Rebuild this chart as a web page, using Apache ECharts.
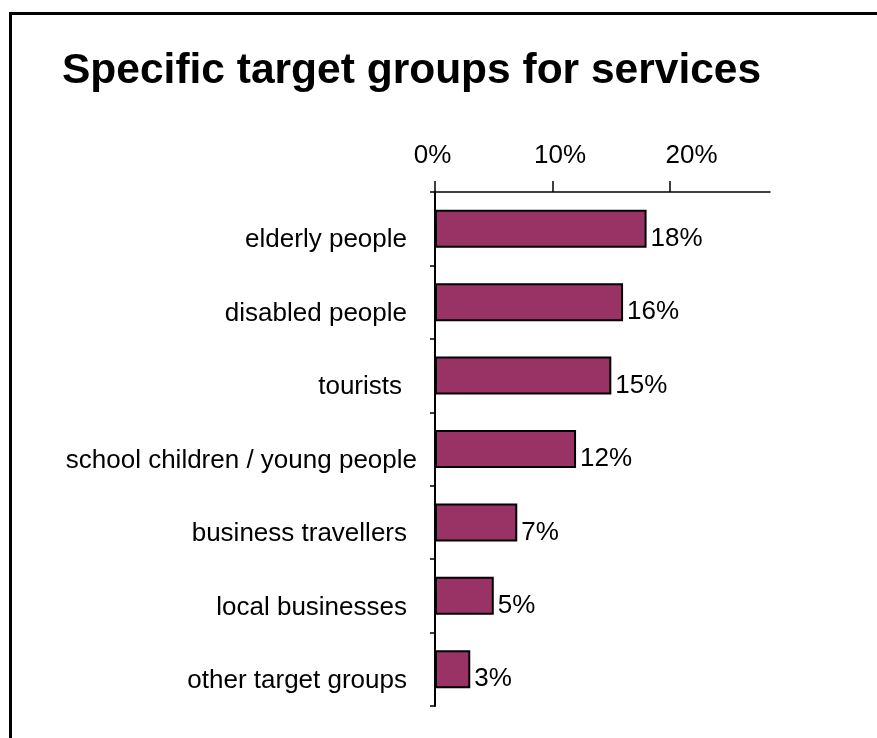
<!DOCTYPE html>
<html>
<head>
<meta charset="utf-8">
<title>Specific target groups for services</title>
<script src="https://cdn.jsdelivr.net/npm/echarts@6/dist/echarts.min.js"></script>
<style>
  html, body { margin: 0; padding: 0; background: #fff; }
  #chart { width: 877px; height: 738px; }
</style>
</head>
<body>
<div id="chart"></div>
<script>
// Target groups and their share of services (%)
const categories = [
  'elderly people',
  'disabled people',
  'tourists',
  'school children / young people',
  'business travellers',
  'local businesses',
  'other target groups'
];
const shares = [18, 16, 15, 12, 7, 5, 3];
const tickValues = [0, 10, 20];

const FONT = "'Liberation Sans', Arial, sans-serif";

// per-label nudges for the category names and the percent scale
function categoryStyle(name) {
  if (name === 'tourists') return 't';
  if (name === 'school children / young people') return 's';
  return 'n';
}
function tickStyle(v) {
  return v === 0 ? 'l0' : (v === 10 ? 'l10' : 'l20');
}

const chart = echarts.init(document.getElementById('chart'), null, { renderer: 'canvas' });

chart.setOption({
  animation: false,
  backgroundColor: '#ffffff',
  textStyle: { fontFamily: FONT },
  title: {
    text: 'Specific target groups for services',
    left: 62,
    top: 50,
    padding: 0,
    textStyle: { fontFamily: FONT, fontSize: 42.5, fontWeight: 'bold', color: '#000' }
  },
  graphic: [{
    type: 'rect',
    silent: true,
    shape: { x: 10.5, y: 13.5, width: 1000, height: 1000 },
    style: { fill: 'none', stroke: '#000', lineWidth: 3 }
  }],
  grid: { left: 435, right: 107, top: 192, bottom: 32, containLabel: false },
  xAxis: {
    type: 'value',
    position: 'top',
    min: 0,
    max: 28.5,
    interval: 10,
    splitLine: { show: false },
    axisLine: { show: true, lineStyle: { color: '#000', width: 1.5 } },
    axisTick: { show: true, customValues: tickValues, length: 11, inside: false, lineStyle: { color: '#000', width: 1.5 } },
    axisLabel: {
      customValues: tickValues,
      margin: 23,
      fontFamily: FONT,
      fontSize: 26,
      color: '#000',
      formatter: v => '{' + tickStyle(v) + '|' + v + '%}',
      rich: {
        l0: { fontFamily: FONT, fontSize: 26, color: '#000', padding: [0, 5, 0, 0] },
        l10: { fontFamily: FONT, fontSize: 26, color: '#000', padding: [0, 0, 0, 15] },
        l20: { fontFamily: FONT, fontSize: 26, color: '#000', padding: [0, 0, 0, 43] }
      }
    }
  },
  yAxis: {
    type: 'category',
    inverse: true,
    data: categories,
    axisLine: { show: true, lineStyle: { color: '#000', width: 2 } },
    axisTick: { show: true, length: 5, inside: false, lineStyle: { color: '#000', width: 1.5 } },
    axisLabel: {
      margin: 18,
      fontFamily: FONT,
      fontSize: 26,
      color: '#000',
      formatter: name => '{' + categoryStyle(name) + '|' + name + '}',
      rich: {
        n: { fontFamily: FONT, fontSize: 26, color: '#000', padding: [23, 10, 0, 0] },
        t: { fontFamily: FONT, fontSize: 26, color: '#000', padding: [23, 15, 0, 0] },
        s: { fontFamily: FONT, fontSize: 26, color: '#000', padding: [23, 0, 0, 0] }
      }
    }
  },
  series: [{
    type: 'bar',
    data: shares,
    barWidth: 38,
    itemStyle: { color: '#993366', borderColor: '#000', borderWidth: 2 },
    label: {
      show: true,
      position: 'right',
      distance: 4,
      offset: [0, 10],
      fontFamily: FONT,
      fontSize: 26,
      color: '#000',
      formatter: p => p.value + '%'
    }
  }]
});
</script>
</body>
</html>
